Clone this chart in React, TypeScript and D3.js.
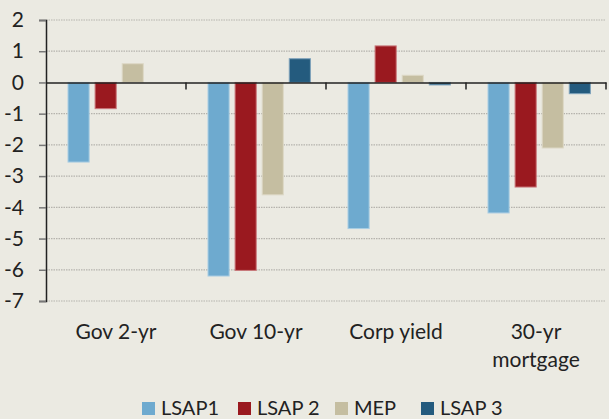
import React, { useEffect, useRef } from "react";
import * as d3 from "d3";

const categories = ["Gov 2-yr", "Gov 10-yr", "Corp yield", "30-yr mortgage"];
const categoryLines = [["Gov 2-yr"], ["Gov 10-yr"], ["Corp yield"], ["30-yr", "mortgage"]];
const seriesNames = ["LSAP1", "LSAP 2", "MEP", "LSAP 3"];
const lsap1 = [-2.55, -6.2, -4.68, -4.18];
const lsap2 = [-0.84, -6.02, 1.17, -3.35];
const mep = [0.6, -3.6, 0.23, -2.1];
const lsap3 = [0, 0.76, -0.08, -0.36];
const yTicks = [2, 1, 0, -1, -2, -3, -4, -5, -6, -7];

const colors = ["#6eaacf", "#9a191f", "#c5bea1", "#245b7e"];
const strokes = ["#a9cde3", "#c9787b", "#ddd8c6", "#7ea2bb"];

export default function App() {
  const ref = useRef<SVGSVGElement>(null);

  useEffect(() => {
    const svg = d3.select(ref.current);
    svg.selectAll("*").remove();

    const margin = { left: 46, top: 20, right: 3 };
    const w = 609 - margin.left - margin.right;

    const x = d3.scaleBand().domain(categories).range([margin.left, margin.left + w]);
    const y = d3.scaleLinear().domain([-7, 2]).range([301, 20]);
    const font = "Lato, 'Open Sans', sans-serif";

    svg.append("rect").attr("width", 609).attr("height", 419).attr("fill", "#ebeae2");

    // grid
    svg.append("g")
      .selectAll("line")
      .data(yTicks.filter(t => t !== 0))
      .enter()
      .append("line")
      .attr("x1", margin.left)
      .attr("x2", margin.left + w)
      .attr("y1", d => y(d))
      .attr("y2", d => y(d))
      .attr("stroke", "#b5b3ad")
      .attr("stroke-width", 1.2)
      .attr("stroke-dasharray", "1.5,1");

    // y axis
    const yAxis = svg.append("g")
      .attr("transform", `translate(${margin.left},0)`)
      .call(d3.axisLeft(y).tickValues(yTicks).tickSize(7).tickPadding(15).tickFormat(d => String(d)));
    yAxis.select(".domain").attr("stroke", "#222").attr("stroke-width", 1.5);
    yAxis.selectAll(".tick line").attr("stroke", "#777").attr("stroke-width", 1.5);
    yAxis.selectAll("text")
      .attr("font-family", font)
      .attr("font-size", 21)
      .attr("fill", "#222");

    // bars
    const all = [lsap1, lsap2, mep, lsap3];
    const inner = d3.scaleBand().domain(seriesNames).range([22, 22 + 4 * 25.6]).paddingInner(0.22);
    all.forEach((vals, si) => {
      svg.append("g")
        .selectAll("rect")
        .data(vals.map((v, i) => ({ v, c: categories[i] })).filter(d => d.v !== 0))
        .enter()
        .append("rect")
        .attr("x", d => (x(d.c) ?? 0) + (inner(seriesNames[si]) ?? 0))
        .attr("y", d => y(Math.max(0, d.v)))
        .attr("width", inner.bandwidth())
        .attr("height", d => Math.abs(y(d.v) - y(0)))
        .attr("fill", colors[si])
        .attr("stroke", strokes[si])
        .attr("stroke-width", 1);
    });

    // x axis at zero
    const xAxis = svg.append("g")
      .attr("transform", `translate(0,${y(0)})`)
      .call(d3.axisBottom(x).tickValues([]).tickSizeOuter(0));
    xAxis.select(".domain").attr("stroke", "#222").attr("stroke-width", 1.5);
    const bounds = categories.map(c => (x(c) ?? 0) + x.bandwidth());
    xAxis.selectAll(".sep")
      .data(bounds)
      .enter()
      .append("line")
      .attr("x1", d => d)
      .attr("x2", d => d)
      .attr("y1", 0)
      .attr("y2", 7)
      .attr("stroke", "#222")
      .attr("stroke-width", 1.5);

    // category labels
    categoryLines.forEach((lines, i) => {
      const t = svg.append("text")
        .attr("x", (x(categories[i]) ?? 0) + x.bandwidth() / 2)
        .attr("y", 339)
        .attr("text-anchor", "middle")
        .attr("font-family", font)
        .attr("font-size", 21)
        .attr("fill", "#222");
      lines.forEach((l, j) => {
        t.append("tspan")
          .attr("x", (x(categories[i]) ?? 0) + x.bandwidth() / 2)
          .attr("dy", j === 0 ? 0 : 28)
          .text(l);
      });
    });

    // legend
    const legendX = [142, 238, 335, 421];
    seriesNames.forEach((s, i) => {
      svg.append("rect")
        .attr("x", legendX[i])
        .attr("y", 402)
        .attr("width", 13)
        .attr("height", 13)
        .attr("fill", colors[i]);
      svg.append("text")
        .attr("x", legendX[i] + 19)
        .attr("y", 415)
        .attr("font-family", font)
        .attr("font-size", 20)
        .attr("fill", "#222")
        .text(s);
    });
  }, []);

  return (
    <svg ref={ref} width={609} height={419} style={{ position: "absolute", left: 0, top: 0, display: "block" }} />
  );
}
